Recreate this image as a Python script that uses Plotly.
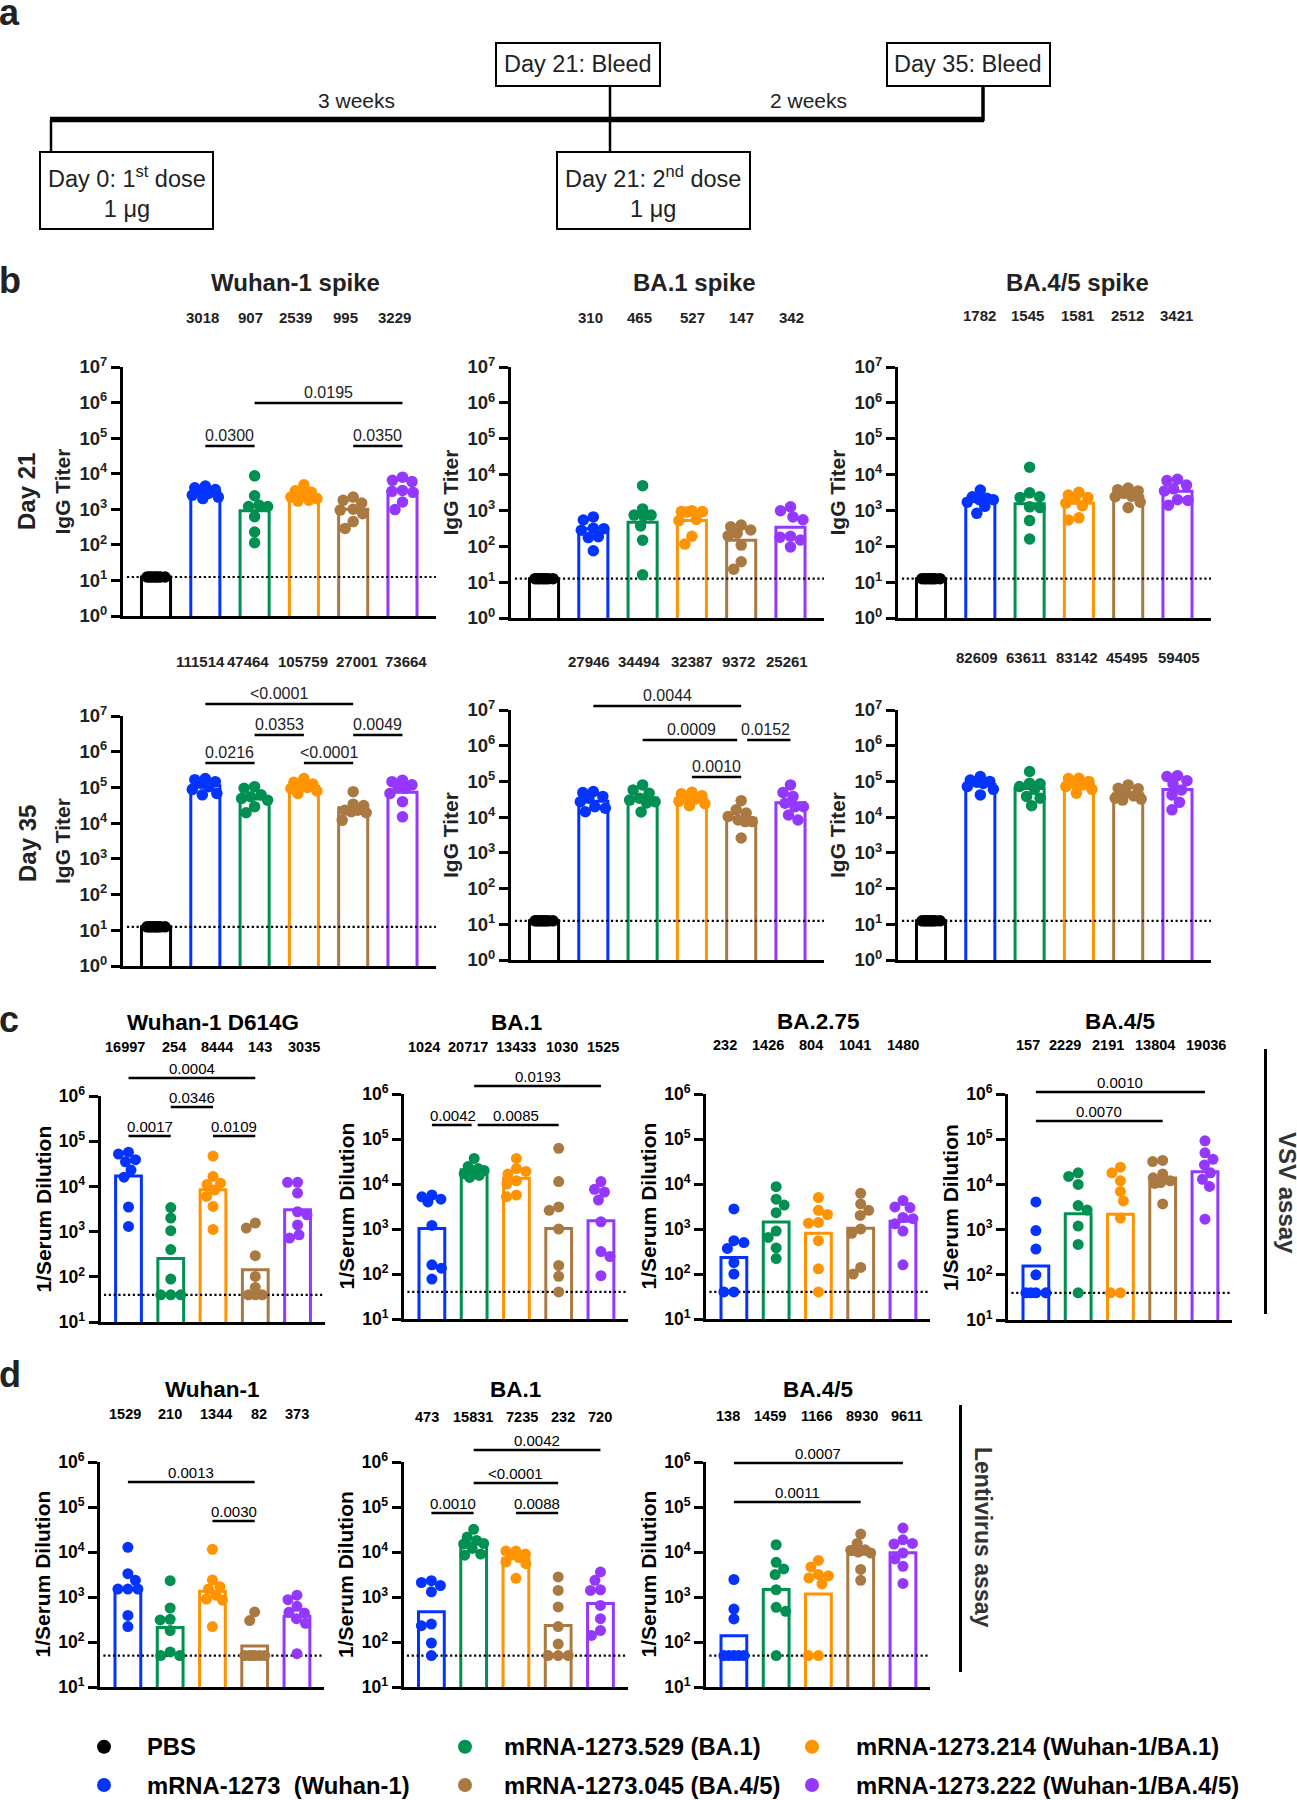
import math
import plotly.graph_objects as go

W, H = 1297, 1800
FONT = "Liberation Sans, Arial, Helvetica, sans-serif"
DARK = "#222222"

# ---------------- data ----------------
groups = ["PBS", "mRNA-1273\u00a0 (Wuhan-1)", "mRNA-1273.529 (BA.1)", "mRNA-1273.214 (Wuhan-1/BA.1)",
          "mRNA-1273.045 (BA.4/5)", "mRNA-1273.222 (Wuhan-1/BA.4/5)"]
colors = ["#000000", "#0433FF", "#009051", "#FF9300", "#AA7942", "#9437FF"]

lod_elisa = 12.5
lod_vsv = 40
lod_lenti = 50
pbs_mean = 12.5
pbs_titer = [12.5, 12.5, 12.5, 12.5, 12.5, 12.5, 12.5, 12.5]

# Panel b, Day 21 IgG titers (mRNA-1273, .529, .214, .045, .222)
d21_wuhan_means = [3018, 907, 2539, 995, 3229]
d21_wuhan = [
    [4500, 4000, 3600, 3200, 2800, 2500, 2200, 2000],
    [8700, 2400, 1300, 1200, 1200, 620, 230, 115],
    [4900, 3300, 3000, 2500, 2000, 1800, 1700, 2200],
    [2200, 1800, 1500, 1000, 950, 750, 450, 290],
    [8000, 6500, 6000, 3400, 3200, 3000, 1600, 980],
]
d21_ba1_means = [310, 465, 527, 147, 342]
d21_ba1 = [
    [660, 540, 320, 310, 280, 185, 175, 75],
    [4900, 1100, 740, 740, 700, 370, 148, 16],
    [980, 930, 930, 900, 560, 520, 190, 115],
    [390, 350, 285, 230, 195, 108, 37, 23],
    [1260, 980, 660, 550, 190, 180, 150, 96],
]
d21_ba45_means = [1782, 1545, 1581, 2512, 3421]
d21_ba45 = [
    [3700, 2400, 2200, 2000, 2000, 1700, 1300, 830],
    [16000, 3100, 2400, 2300, 1260, 1200, 520, 160],
    [3200, 2700, 2300, 2100, 1600, 1350, 620, 540],
    [4200, 3800, 3500, 3000, 2500, 2400, 1700, 1200],
    [7400, 6800, 5100, 4000, 3500, 2000, 1900, 1400],
]
# Panel b, Day 35
d35_wuhan_means = [111514, 47464, 105759, 27001, 73664]
d35_wuhan = [
    [178000, 165000, 145000, 130000, 105000, 88000, 68000, 62000],
    [105000, 95000, 62000, 55000, 49000, 44000, 29000, 19500],
    [178000, 140000, 125000, 112000, 100000, 93000, 80000, 68000],
    [76000, 34000, 31000, 23000, 23000, 21000, 19500, 12000],
    [160000, 145000, 118000, 105000, 93000, 68000, 40000, 15000],
]
d35_ba1_means = [27946, 34494, 32387, 9372, 25261]
d35_ba1 = [
    [52000, 49000, 38000, 34000, 27000, 19500, 17800, 14200],
    [80000, 58000, 47000, 34000, 30000, 27000, 25000, 14000],
    [50000, 45000, 40000, 36000, 32000, 28000, 24000, 21000],
    [29000, 16000, 13000, 10500, 8300, 7500, 7500, 2600],
    [80000, 49000, 38000, 24500, 19500, 19500, 11500, 8300],
]
d35_ba45_means = [82609, 63611, 83142, 45495, 59405]
d35_ba45 = [
    [137000, 110000, 100000, 95000, 88000, 72000, 60000, 42000],
    [190000, 89000, 86000, 72000, 60000, 38000, 34000, 21000],
    [123000, 120000, 100000, 89000, 80000, 72000, 60000, 47000],
    [80000, 64000, 62000, 47000, 39000, 34000, 32000, 30000],
    [145000, 137000, 105000, 85000, 58000, 42000, 26000, 16000],
]
# Panel c, VSV pseudovirus neutralization
vsv_wuhan_means = [16997, 254, 8444, 143, 3035]
vsv_wuhan = [
    [57000, 52000, 39000, 35000, 23000, 16000, 3500, 1300],
    [3400, 2000, 1050, 400, 89, 40, 40, 40],
    [47000, 16600, 11800, 11000, 8300, 6000, 3600, 1120],
    [1550, 1200, 293, 102, 58, 40, 40, 40],
    [12300, 12300, 7100, 2750, 2350, 1400, 850, 720],
]
vsv_ba1_means = [1024, 20717, 13433, 1030, 1525]
vsv_ba1 = [
    [5700, 5200, 4600, 4000, 1200, 160, 135, 77],
    [37000, 24500, 22000, 20000, 19000, 17000, 15500, 14000],
    [37000, 22000, 19000, 16600, 11800, 10000, 5700, 5200],
    [62000, 11300, 3100, 2600, 1000, 155, 89, 40],
    [11300, 7600, 6600, 4400, 1450, 315, 245, 92],
]
vsv_ba275_means = [232, 1426, 804, 1041, 1480]
vsv_ba275 = [
    [2800, 550, 500, 370, 180, 100, 40, 40],
    [8700, 4600, 3400, 2300, 900, 650, 380, 220],
    [5000, 2600, 2100, 1400, 1350, 550, 130, 40],
    [6200, 3600, 2600, 2000, 1000, 800, 140, 100],
    [4300, 3100, 3000, 1800, 1700, 1300, 900, 160],
]
vsv_ba45_means = [157, 2229, 2191, 13804, 19036]
vsv_ba45 = [
    [4100, 950, 370, 100, 40, 40, 40, 40],
    [18000, 15000, 10000, 3400, 2700, 1200, 470, 40],
    [24000, 18000, 12000, 7000, 4300, 1800, 40, 40],
    [34000, 32000, 17000, 14000, 12000, 11000, 10500, 3700],
    [92000, 50000, 36000, 27000, 18000, 13000, 9000, 1700],
]
# Panel d, lentivirus pseudovirus neutralization
lenti_wuhan_means = [1529, 210, 1344, 82, 373]
lenti_wuhan = [
    [12700, 3300, 2350, 1500, 1500, 1500, 390, 220],
    [2300, 570, 320, 310, 180, 60, 50, 50],
    [11500, 2400, 1700, 1500, 1100, 900, 850, 220],
    [465, 300, 50, 50, 50, 50, 50, 50],
    [1100, 870, 620, 460, 440, 330, 260, 55],
]
lenti_ba1_means = [473, 15831, 7235, 232, 720]
lenti_ba1 = [
    [2300, 2100, 1800, 1300, 250, 230, 95, 50],
    [32000, 21500, 18000, 15500, 15000, 12000, 9000, 8500],
    [10500, 10500, 9000, 8500, 7500, 6000, 5500, 2600],
    [2800, 1400, 600, 220, 90, 50, 50, 50],
    [3600, 2350, 1450, 1400, 650, 330, 180, 140],
]
lenti_ba45_means = [138, 1459, 1166, 8930, 9611]
lenti_ba45 = [
    [2450, 540, 325, 50, 50, 50, 50, 50],
    [14500, 5900, 4200, 3150, 1450, 590, 480, 50],
    [6500, 4650, 3150, 2950, 2650, 1950, 50, 50],
    [25000, 15500, 11200, 11000, 10000, 9500, 4100, 2350],
    [34000, 18600, 15500, 15000, 9500, 7000, 4800, 2000],
]

# ---------------- helpers ----------------
fig = go.Figure()
shapes, annots, layout = [], [], {}


def X(p):
    return p / W


def Y(p):
    return 1 - p / H


def add_text(text, x, y, size, color="black", angle=0, xanchor="center", yanchor="middle", bold=False):
    annots.append(dict(text=text, x=X(x), y=Y(y), xref="paper", yref="paper", showarrow=False,
                       font=dict(family=FONT, size=size, color=color, weight="bold" if bold else "normal"),
                       textangle=angle, xanchor=xanchor, yanchor=yanchor))


def add_line(x0, y0, x1, y1, width=2.5, color="black"):
    shapes.append(dict(type="line", xref="paper", yref="paper", x0=X(x0), y0=Y(y0), x1=X(x1), y1=Y(y1),
                       line=dict(color=color, width=width)))


def swarm(vals, ppd, spacing, diam, maxoff):
    yv = [math.log10(v) * ppd for v in vals]
    order = sorted(range(len(vals)), key=lambda i: -vals[i])
    steps = int(round(maxoff * 2))
    base = [s / 2.0 for s in range(-steps, steps + 1)]
    placed = []
    offs = [0.0] * len(vals)
    for n, i in enumerate(order):
        sgn = 1 if n % 2 == 0 else -1
        cands = sorted(base, key=lambda o: (abs(o), -sgn * o))
        chosen, best_o, best_d = None, 0.0, -1.0
        for o in cands:
            d = min((math.hypot(o - po, yv[i] - pyv) for po, pyv in placed), default=1e9)
            if d >= diam * 0.9:
                chosen = o
                break
            if d > best_d + 1e-9:
                best_o, best_d = o, d
        if chosen is None:
            chosen = best_o
        placed.append((chosen, yv[i]))
        offs[i] = chosen / spacing
    return offs


# ---------------- panel specs ----------------
b_common = dict(w=313, xr=(-0.67, 5.68), yr=(0, 7), bw=0.59, ms=11.5, maxoff=13, tick_size=18.5,
                mean_size=15, p_size=16, pgap=10.5, tc=DARK, ytitle="IgG Titer", yt_size=21, yt_dx=-61,
                title_size=24, lod=lod_elisa, pbs=True)
n_common = dict(w=224, xr=(-0.66, 4.64), yr=(1, 6), bw=0.61, ms=11, maxoff=10, tick_size=17.5,
                mean_size=14.5, p_size=15, pgap=9.5, tc="black", ytitle="1/Serum Dilution", yt_size=21, yt_dx=-58,
                title_size=22.5, pbs=False)

panels = [
    dict(b_common, pts=[pbs_titer] + d21_wuhan, means=[pbs_mean] + d21_wuhan_means, x0=123, top=367, bottom=616,
         title="Wuhan-1 spike", tx=295, ty=282, my=318, mdx=[-3, -4, -8, -8, -8],
         br=[(1, 2, "0.0300", 446, 0, 0), (2, 5, "0.0195", 403, 0, 0), (4, 5, "0.0350", 446, 0, 0)]),
    dict(b_common, pts=[pbs_titer] + d21_ba1, means=[pbs_mean] + d21_ba1_means, x0=511, top=367, bottom=618,
         title="BA.1 spike", tx=694, ty=282, my=318, mdx=[-3, -3, 1, 0, 1], br=[]),
    dict(b_common, pts=[pbs_titer] + d21_ba45, means=[pbs_mean] + d21_ba45_means, x0=898, top=367, bottom=618,
         title="BA.4/5 spike", tx=1077, ty=282, my=315, mdx=[-1, -2, -1, -1, -1], br=[]),
    dict(b_common, pts=[pbs_titer] + d35_wuhan, means=[pbs_mean] + d35_wuhan_means, x0=123, top=716, bottom=966,
         title=None, my=661, mdx=[-5, -7, -1, 4, 4],
         br=[(1, 4, "<0.0001", 704, 0, 0), (2, 3, "0.0353", 735, 0, 0), (4, 5, "0.0049", 735, 0, 0),
             (1, 2, "0.0216", 763, 0, 0), (3, 4, "<0.0001", 763, 0, 0)]),
    dict(b_common, pts=[pbs_titer] + d35_ba1, means=[pbs_mean] + d35_ba1_means, x0=511, top=710, bottom=960,
         title=None, my=661, mdx=[-4, -4, 0, -3, -3],
         br=[(1, 4, "0.0044", 706, 0, 0), (2, 4, "0.0009", 740, 0, 4), (4, 5, "0.0152", 740, 6, 0),
             (3, 4, "0.0010", 777, 0, 0)]),
    dict(b_common, pts=[pbs_titer] + d35_ba45, means=[pbs_mean] + d35_ba45_means, x0=898, top=710, bottom=960,
         title=None, my=657, mdx=[-3, -3, -2, -1, 2], br=[]),
    dict(n_common, pts=vsv_wuhan, means=vsv_wuhan_means, lod=lod_vsv, x0=100.6, top=1096, bottom=1322,
         title="Wuhan-1 D614G", ty=1022.5, my=1047, mdx=[-3, 3, 4, 5, 6],
         br=[(0, 3, "0.0004", 1078, 0, 0), (1, 2, "0.0346", 1107, 0, 0), (0, 1, "0.0017", 1136, 0, 0),
             (2, 3, "0.0109", 1136, 0, 0)]),
    dict(n_common, pts=vsv_ba1, means=vsv_ba1_means, lod=lod_vsv, x0=404, top=1094, bottom=1319,
         title="BA.1", ty=1022.5, my=1047, mdx=[-8, -6, 0, 3, 2],
         br=[(1, 4, "0.0193", 1086, 0, 0), (0, 1, "0.0042", 1125, 0, 2.5), (1, 3, "0.0085", 1125, 3.5, 0)]),
    dict(n_common, pts=vsv_ba275, means=vsv_ba275_means, lod=lod_vsv, x0=706, top=1094, bottom=1319,
         title="BA.2.75", ty=1021.5, my=1045, mdx=[-9, -8, -7, -6, 0], br=[]),
    dict(n_common, pts=vsv_ba45, means=vsv_ba45_means, lod=lod_vsv, x0=1008, top=1094, bottom=1320,
         title="BA.4/5", ty=1021.5, my=1045, mdx=[-8, -13, -12, -8, 1],
         br=[(0, 4, "0.0010", 1092, 0, 0), (0, 3, "0.0070", 1121, 0, 0)]),
    dict(n_common, pts=lenti_wuhan, means=lenti_wuhan_means, lod=lod_lenti, x0=100, top=1462, bottom=1687,
         title="Wuhan-1", ty=1389, my=1414, mdx=[-3, 0, 4, 4, 0],
         br=[(0, 3, "0.0013", 1482, 0, 0), (2, 3, "0.0030", 1521, 0, 0)]),
    dict(n_common, pts=lenti_ba1, means=lenti_ba1_means, lod=lod_lenti, x0=403.5, top=1462, bottom=1687,
         title="BA.1", ty=1389, my=1417, mdx=[-4, -1, 6, 5, 0],
         br=[(1, 4, "0.0042", 1450, 0, 0), (1, 3, "<0.0001", 1483, 0, 0), (0, 1, "0.0010", 1513, 0, 0),
             (2, 3, "0.0088", 1513, 0, 0)]),
    dict(n_common, pts=lenti_ba45, means=lenti_ba45_means, lod=lod_lenti, x0=706, top=1462, bottom=1687,
         title="BA.4/5", ty=1389, my=1416, mdx=[-6, -6, -2, 1, 4],
         br=[(0, 4, "0.0007", 1463, 0, 0), (0, 3, "0.0011", 1502, 0, 0)]),
]

# ---------------- build panels ----------------
for k, p in enumerate(panels, start=1):
    xr_, yr_ = p["xr"], p["yr"]
    lo, hi = xr_
    spacing = p["w"] / (hi - lo)
    ppd = (p["bottom"] - p["top"]) / (yr_[1] - yr_[0])
    ncat = len(p["means"])
    cols = colors if p["pbs"] else colors[1:]

    def cat_px(i, p=p, lo=lo, spacing=spacing):
        return p["x0"] + (i - lo) * spacing

    exps = list(range(yr_[0], yr_[1] + 1))
    layout[f"xaxis{k}"] = dict(domain=[X(p["x0"]), X(p["x0"] + p["w"])], range=list(xr_), anchor=f"y{k}",
                               showline=True, linecolor="black", linewidth=3, ticks="", showticklabels=False,
                               showgrid=False, zeroline=False, fixedrange=True, automargin=False)
    layout[f"yaxis{k}"] = dict(domain=[Y(p["bottom"]), Y(p["top"])], type="log", range=list(yr_),
                               anchor=f"x{k}", showline=True, linecolor="black", linewidth=3,
                               ticks="outside", ticklen=9, tickwidth=3, tickcolor="black",
                               tickmode="array", tickvals=[10 ** e for e in exps],
                               ticktext=[f"10<sup>{e}</sup>" for e in exps],
                               tickfont=dict(family=FONT, size=p["tick_size"], color=p["tc"], weight="bold"),
                               showgrid=False, zeroline=False, fixedrange=True, automargin=False)

    fig.add_trace(go.Bar(x=list(range(ncat)), y=p["means"], width=p["bw"],
                         marker=dict(color="white", line=dict(color=cols, width=3)),
                         xaxis=f"x{k}", yaxis=f"y{k}", hoverinfo="skip", showlegend=False))
    fig.add_trace(go.Scatter(x=[lo + 0.08, hi], y=[p["lod"], p["lod"]], mode="lines",
                             line=dict(color="black", width=2.2, dash="2.2px,2.6px"),
                             xaxis=f"x{k}", yaxis=f"y{k}", hoverinfo="skip", showlegend=False))
    xs, ys, cs = [], [], []
    for gi, vals in enumerate(p["pts"]):
        mo = 9 if (p["pbs"] and gi == 0) else p["maxoff"]
        offs = swarm(vals, ppd, spacing, p["ms"], mo)
        for v, o in zip(vals, offs):
            xs.append(gi + o)
            ys.append(v)
            cs.append(cols[gi])
    fig.add_trace(go.Scatter(x=xs, y=ys, mode="markers", cliponaxis=False,
                             marker=dict(size=p["ms"], color=cs, line=dict(width=0)),
                             xaxis=f"x{k}", yaxis=f"y{k}", hoverinfo="skip", showlegend=False))

    # geometric mean labels
    start = 1 if p["pbs"] else 0
    for n, gi in enumerate(range(start, ncat)):
        add_text(str(p["means"][gi]), cat_px(gi) + p["mdx"][n], p["my"], p["mean_size"], color=p["tc"], bold=True)
    # title
    if p["title"]:
        tx = p.get("tx", cat_px(2))
        add_text(p["title"], tx, p["ty"], p["title_size"], color=p["tc"], bold=True)
    # y-axis title
    add_text(p["ytitle"], p["x0"] + p["yt_dx"], (p["top"] + p["bottom"]) / 2, p["yt_size"],
             color=p["tc"], angle=-90, bold=True)
    # significance brackets
    for (i, j, txt, yb, tl, tr) in p["br"]:
        add_line(cat_px(i) + tl, yb, cat_px(j) - tr, yb, width=2.5)
        add_text(txt, (cat_px(i) + cat_px(j)) / 2, yb - p["pgap"], p["p_size"], color=p["tc"])

# row labels for panel b
add_text("Day 21", 27, 492, 24, color=DARK, angle=-90, bold=True)
add_text("Day 35", 27, 844, 24, color=DARK, angle=-90, bold=True)

# assay side labels
add_line(1265.5, 1049, 1265.5, 1314, width=3)
add_text("VSV assay", 1288, 1193, 24, color="#333333", angle=90, bold=True)
add_line(960.5, 1405, 960.5, 1672, width=3)
add_text("Lentivirus assay", 983, 1537, 23, color="#333333", angle=90, bold=True)

# panel letters
for letter, ybase in [("a", 25), ("b", 293), ("c", 1032), ("d", 1387)]:
    add_text(letter, -3, ybase - 12.5, 36, color=DARK, xanchor="left", bold=True)

# ---------------- panel a: schedule ----------------
add_line(50, 119.5, 984, 119.5, width=5.5)
add_line(51, 119.5, 51, 152, width=2.5)
add_line(610, 86, 610, 152, width=2.5)
add_line(983, 86, 983, 121, width=3.5)
for (bx0, by0, bx1, by1) in [(40, 152, 213, 229), (557, 152, 750, 229), (496, 43, 660, 86), (887, 43, 1050, 86)]:
    shapes.append(dict(type="rect", xref="paper", yref="paper", x0=X(bx0), y0=Y(by1), x1=X(bx1), y1=Y(by0),
                       line=dict(color="black", width=2), fillcolor="white"))
add_text("Day 21: Bleed", 578, 64, 23.5, color=DARK)
add_text("Day 35: Bleed", 968.5, 64, 23.5, color=DARK)
add_text("Day 0: 1<sup>st</sup> dose<br>1 \u03bcg", 126.5, 192, 23.5, color=DARK)
add_text("Day 21: 2<sup>nd</sup> dose<br>1 \u03bcg", 653.5, 192, 23.5, color=DARK)
add_text("3 weeks", 356, 100, 21, color=DARK)
add_text("2 weeks", 808, 100, 21, color=DARK)

# ---------------- legend ----------------
legend_slots = [(104, 1746.7, 147), (104, 1785, 147), (465, 1746.7, 504), (465, 1785, 504),
                (812, 1746.7, 856), (812, 1785, 856)]
legend_order = [0, 1, 2, 4, 3, 5]
for slot, gi in zip(legend_slots, legend_order):
    cx, cy, tx = slot
    shapes.append(dict(type="circle", xref="paper", yref="paper", x0=X(cx - 7), x1=X(cx + 7),
                       y0=Y(cy + 7), y1=Y(cy - 7), fillcolor=colors[gi], line=dict(width=0)))
    add_text(groups[gi], tx - 2, cy, 23.8, color="black", xanchor="left", bold=True)

fig.update_layout(width=W, height=H, autosize=False,
                  margin=dict(l=0, r=0, t=0, b=0, pad=0, autoexpand=False),
                  paper_bgcolor="white", plot_bgcolor="white", showlegend=False, barmode="overlay",
                  shapes=shapes, annotations=annots, font=dict(family=FONT), **layout)

fig.write_html("out.html", config={"displayModeBar": False},
               post_script="document.body.style.margin='0px';document.body.style.overflow='hidden';")
